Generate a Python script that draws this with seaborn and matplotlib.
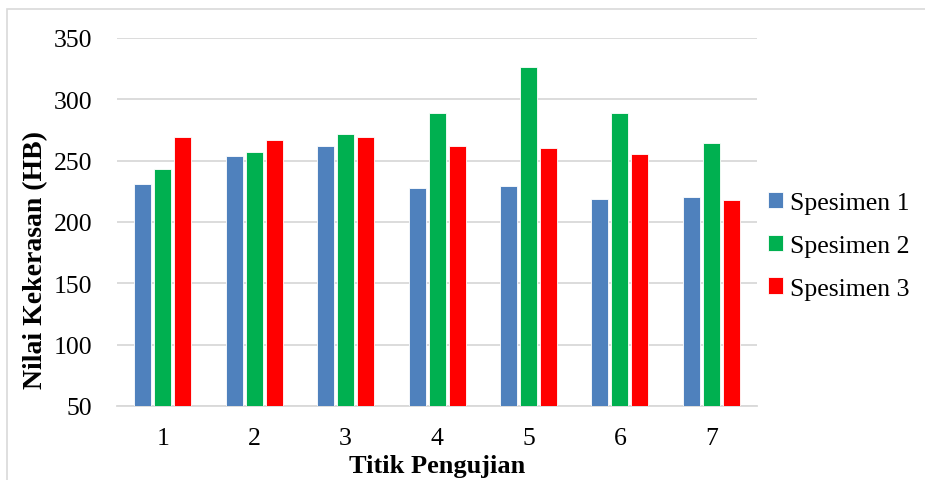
import pandas as pd
import seaborn as sns
import matplotlib.pyplot as plt
from matplotlib.patches import Rectangle

# data
titik = ['1', '2', '3', '4', '5', '6', '7']
spesimen_1 = [231, 253.5, 262, 227.5, 229, 219, 220]
spesimen_2 = [243, 257, 272, 289, 326, 289, 264]
spesimen_3 = [269, 267, 269, 262, 260.5, 255, 217.5]
labels = ['Spesimen 1', 'Spesimen 2', 'Spesimen 3']
colors = ['#4F81BD', '#00B050', '#FF0000']

df = pd.DataFrame({
    'Titik': titik * 3,
    'Nilai': spesimen_1 + spesimen_2 + spesimen_3,
    'Spesimen': [labels[0]] * 7 + [labels[1]] * 7 + [labels[2]] * 7,
})

sns.set_style('white')
plt.rcParams['font.family'] = ['Liberation Serif', 'DejaVu Serif']
plt.rcParams['text.color'] = 'black'
plt.rcParams['axes.labelcolor'] = 'black'
plt.rcParams['xtick.color'] = 'black'
plt.rcParams['ytick.color'] = 'black'

fig = plt.figure(figsize=(9.25, 4.81), dpi=100)
ax = fig.add_axes([0.1265, 0.154, 0.692, 0.765])

sns.barplot(
    data=df, x='Titik', y='Nilai', hue='Spesimen',
    palette=colors, saturation=1, width=0.656, gap=0.15,
    edgecolor='white', linewidth=0.6, ax=ax, zorder=3,
)

ax.set_ylim(50, 350)
ax.set_yticks(range(50, 351, 50))
ax.grid(axis='y', color='#D9D9D9', linewidth=1.3, zorder=0)
for s in ['top', 'right', 'left']:
    ax.spines[s].set_visible(False)
ax.spines['bottom'].set_color('#D9D9D9')
ax.spines['bottom'].set_linewidth(1.3)
ax.tick_params(axis='both', length=0, labelsize=18.5)
ax.tick_params(axis='x', pad=15)
ax.tick_params(axis='y', pad=18)

ax.set_xlabel('Titik Pengujian', fontsize=19, fontweight='bold', labelpad=4)
ax.set_ylabel('Nilai Kekerasan (HB)', fontsize=20, fontweight='bold')
ax.yaxis.set_label_coords(-0.108, 0.40)

ax.get_legend().remove()
handles, lbls = ax.get_legend_handles_labels()
fig.legend(handles, lbls, loc='center left', bbox_to_anchor=(0.805, 0.487),
           frameon=False, fontsize=18.5, handlelength=0.6, handleheight=0.6,
           handletextpad=0.25, labelspacing=0.8)

# light outer frame like the original
fig.patches.append(Rectangle((0.008, -0.01), 1.1, 0.99, transform=fig.transFigure,
                             fill=False, edgecolor='#D9D9D9', linewidth=1.2))

fig.savefig('out.png', dpi=100)
